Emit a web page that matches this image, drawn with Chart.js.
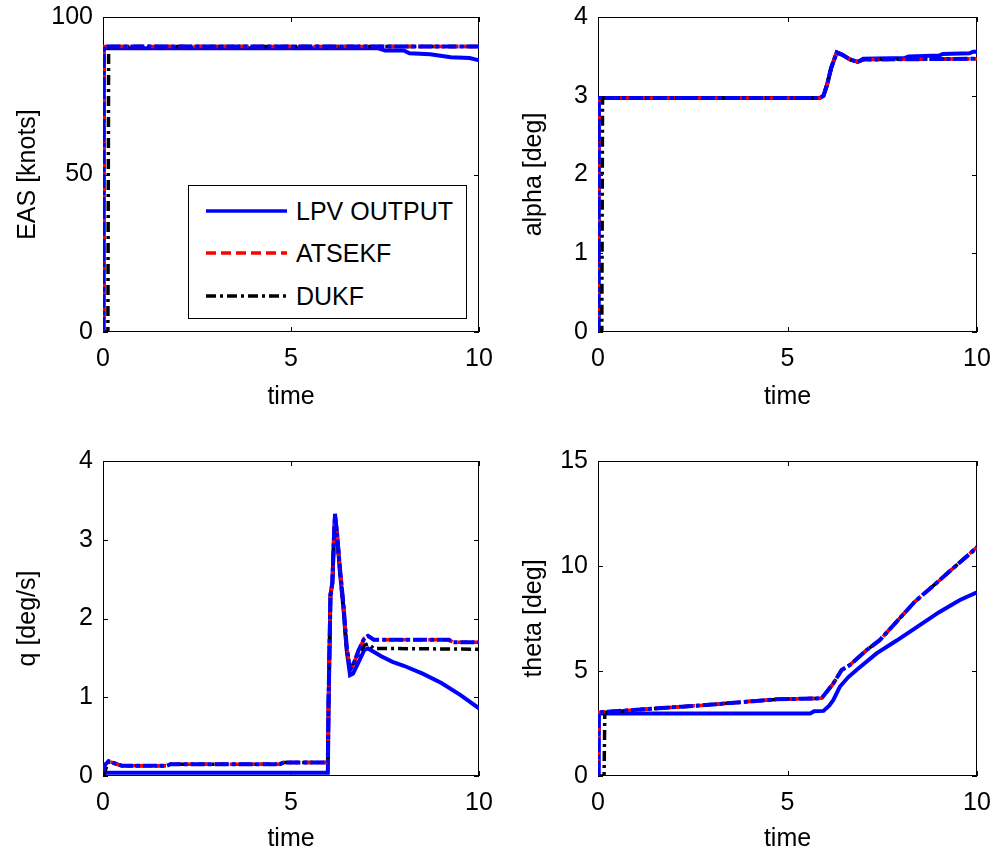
<!DOCTYPE html>
<html>
<head>
<meta charset="utf-8">
<script src="https://cdn.jsdelivr.net/npm/chart.js@4/dist/chart.umd.min.js"></script>
<style>
  body { margin: 0; background: #fff; font-family: "Liberation Sans", Arial, sans-serif; }
  #wrap { position: relative; width: 997px; height: 857px; overflow: hidden; background: #fff; }
  .panel { position: absolute; }
  #legend { position: absolute; left: 188px; top: 185px; width: 277px; height: 132px;
            border: 1px solid #000; background: #fff; color: #000; font-size: 25px; }
  #legend .row { position: absolute; left: 0; height: 30px; display: flex; align-items: center; }
  #legend svg { margin-left: 17px; margin-right: 9px; }
</style>
</head>
<body>
<div id="wrap">
  <div class="panel" style="left:0;top:0"><canvas id="c1" width="498" height="420"></canvas></div>
  <div class="panel" style="left:498px;top:0"><canvas id="c2" width="499" height="420"></canvas></div>
  <div class="panel" style="left:0;top:430px"><canvas id="c3" width="498" height="427"></canvas></div>
  <div class="panel" style="left:498px;top:430px"><canvas id="c4" width="499" height="427"></canvas></div>
  <div id="legend"></div>
</div>
<script>
// ---- data ----
const seriesNames = ['LPV OUTPUT', 'ATSEKF', 'DUKF'];

// EAS [knots]
const tEasLpv = [0, 0.02, 7.3, 7.5, 8.0, 8.15, 8.7, 9.25, 9.75, 9.95, 10];
const easLpv  = [0, 90.1, 90.1, 89.4, 89.4, 88.5, 88.2, 87.2, 87.0, 86.4, 86.3];
const tEasAts = [0, 0.02, 10];
const easAts  = [0, 90.6, 90.6];
const tEasDukf = [0, 0.13, 0.15, 10];
const easDukf  = [0, 0, 90.6, 90.6];

// alpha [deg]
const tAlphaLpv = [0, 0.02, 5.85, 5.95, 6.05, 6.15, 6.3, 6.45, 6.65, 6.85, 7.0, 8.1, 8.2, 9.0, 9.1, 9.8, 9.9, 10];
const alphaLpv  = [0, 2.97, 2.97, 3.0, 3.15, 3.35, 3.55, 3.52, 3.46, 3.43, 3.47, 3.48, 3.5, 3.51, 3.53, 3.54, 3.56, 3.56];
const tAlphaAts = [0, 0.02, 5.85, 5.95, 6.05, 6.15, 6.3, 6.45, 6.65, 6.85, 7.0, 10];
const alphaAts  = [0, 2.97, 2.97, 3.0, 3.15, 3.35, 3.55, 3.52, 3.46, 3.43, 3.46, 3.47];
const tAlphaDukf = [0, 0.1, 0.12, 5.85, 5.95, 6.05, 6.15, 6.3, 6.45, 6.65, 6.85, 7.0, 10];
const alphaDukf  = [0, 0, 2.97, 2.97, 3.0, 3.15, 3.35, 3.55, 3.52, 3.46, 3.43, 3.46, 3.47];

// q [deg/s]
const tQLpv = [0, 0.02, 5.98, 6.0, 6.05, 6.1, 6.14, 6.17, 6.22, 6.3, 6.4, 6.48, 6.57, 6.65, 6.8, 6.95, 7.05, 7.4, 7.7, 8.0, 8.5, 9.0, 9.5, 10];
const qLpv  = [0, 0.04, 0.04, 0.9, 2.3, 2.45, 3.0, 3.33, 3.1, 2.6, 2.1, 1.6, 1.28, 1.3, 1.45, 1.6, 1.62, 1.52, 1.45, 1.4, 1.3, 1.18, 1.03, 0.86];
const tQAts = [0, 0.05, 0.15, 0.25, 0.5, 1.7, 1.8, 4.7, 4.8, 5.98, 6.0, 6.05, 6.1, 6.14, 6.17, 6.22, 6.3, 6.4, 6.48, 6.57, 6.65, 6.8, 6.95, 7.05, 7.2, 9.2, 9.3, 10];
const qAts  = [0.05, 0.14, 0.19, 0.17, 0.13, 0.13, 0.15, 0.15, 0.17, 0.17, 1.0, 2.3, 2.45, 3.0, 3.3, 3.1, 2.65, 2.15, 1.65, 1.35, 1.4, 1.6, 1.75, 1.78, 1.73, 1.73, 1.70, 1.70];
const tQDukf = [0, 0.1, 0.15, 0.25, 0.5, 1.7, 1.8, 4.7, 4.8, 5.98, 6.0, 6.05, 6.1, 6.14, 6.17, 6.22, 6.3, 6.4, 6.48, 6.57, 6.65, 6.8, 6.95, 7.05, 7.2, 10];
const qDukf  = [0, 0.12, 0.18, 0.17, 0.13, 0.13, 0.15, 0.15, 0.17, 0.17, 1.0, 2.3, 2.45, 2.95, 3.25, 3.05, 2.6, 2.1, 1.6, 1.35, 1.42, 1.55, 1.66, 1.68, 1.62, 1.61];

// theta [deg]
const tThLpv = [0, 0.02, 5.6, 5.7, 5.95, 6.1, 6.21, 6.38, 6.6, 6.82, 7.35, 7.88, 8.5, 9.0, 9.55, 10];
const thLpv  = [0, 2.98, 2.98, 3.08, 3.1, 3.35, 3.62, 4.25, 4.7, 5.05, 5.84, 6.45, 7.2, 7.8, 8.38, 8.75];
const tThAts = [0, 0.02, 1.0, 2.2, 3.0, 3.8, 4.7, 5.9, 6.21, 6.43, 6.65, 7.09, 7.44, 7.88, 8.36, 9.0, 9.5, 10];
const thAts  = [0, 3.03, 3.15, 3.3, 3.4, 3.52, 3.65, 3.7, 4.41, 5.05, 5.29, 6.0, 6.48, 7.35, 8.3, 9.3, 10.1, 10.9];
const tThDukf = [0, 0.16, 0.18, 1.0, 2.2, 3.0, 3.8, 4.7, 5.9, 6.21, 6.43, 6.65, 7.09, 7.44, 7.88, 8.36, 9.0, 9.5, 10];
const thDukf  = [0, 0, 3.03, 3.15, 3.3, 3.4, 3.52, 3.65, 3.7, 4.41, 5.05, 5.29, 6.0, 6.48, 7.35, 8.3, 9.3, 10.1, 10.85];

// ---- styles ----
const FONT = '"Liberation Sans", Arial, sans-serif';
const styles = [
  { color: '#0000ff', width: 4, dash: [] },
  { color: '#ff0000', width: 3.5, dash: [10, 5] },
  { color: '#000000', width: 3.5, dash: [10, 4, 3, 4] },
];

const pts = (t, v) => t.map((x, i) => ({ x, y: v[i] }));

// MATLAB-like box with inward ticks on all four sides
const boxPlugin = {
  id: 'matlabBox',
  beforeDatasetsDraw(chart) {
    const { ctx, chartArea: a, scales: { x, y } } = chart;
    const tl = 5;
    ctx.save();
    ctx.strokeStyle = '#000';
    ctx.lineWidth = 1;
    ctx.strokeRect(a.left + 0.5, a.top + 0.5, a.right - a.left - 1, a.bottom - a.top - 1);
    ctx.beginPath();
    x.ticks.forEach(t => {
      const px = Math.round(x.getPixelForValue(t.value)) + 0.5;
      ctx.moveTo(px, a.bottom); ctx.lineTo(px, a.bottom - tl);
      ctx.moveTo(px, a.top); ctx.lineTo(px, a.top + tl);
    });
    y.ticks.forEach(t => {
      const py = Math.round(y.getPixelForValue(t.value)) + 0.5;
      ctx.moveTo(a.left, py); ctx.lineTo(a.left + tl, py);
      ctx.moveTo(a.right, py); ctx.lineTo(a.right - tl, py);
    });
    ctx.stroke();
    ctx.restore();
  }
};

function makePanel(id, p) {
  const sets = [
    [p.lpv, 3], [p.ats, 1], [p.dukf, 2]
  ].map(([d, order], i) => ({
    label: seriesNames[i],
    data: d,
    borderColor: styles[i].color,
    borderWidth: styles[i].width,
    borderDash: styles[i].dash,
    pointRadius: 0,
    tension: 0,
    fill: false,
    order
  }));
  // blue dash-dot trace drawn on top of the estimator curves
  sets.push({
    label: '',
    data: p.ats,
    borderColor: '#0000ff',
    borderWidth: 4,
    borderDash: [14, 3, 4, 3],
    pointRadius: 0,
    tension: 0,
    fill: false,
    order: 0
  });

  return new Chart(document.getElementById(id), {
    type: 'line',
    data: { datasets: sets },
    options: {
      responsive: false,
      animation: false,
      devicePixelRatio: 1,
      layout: { padding: { top: p.padTop, right: p.padRight, left: 0, bottom: 0 } },
      plugins: { legend: { display: false }, tooltip: { enabled: false } },
      scales: {
        x: {
          type: 'linear', min: 0, max: 10,
          grid: { display: false, drawTicks: false },
          border: { display: false },
          ticks: { stepSize: 5, color: '#000', padding: p.xTickPad, font: { family: FONT, size: 25 } },
          title: { display: true, text: 'time', color: '#000', padding: { top: 0, bottom: p.xTitlePad }, font: { family: FONT, size: 25 } },
          afterFit: s => { s.height = p.xAxisH; s.paddingLeft = 0; s.paddingRight = 0; }
        },
        y: {
          type: 'linear', min: p.yMin, max: p.yMax,
          grid: { display: false, drawTicks: false },
          border: { display: false },
          ticks: { stepSize: p.yStep, color: '#000', padding: 10, font: { family: FONT, size: 25 } },
          title: { display: true, text: p.yTitle, color: '#000', padding: { top: p.yTitlePad, bottom: 0 }, font: { family: FONT, size: 25 } },
          afterFit: s => { s.width = p.yAxisW; s.paddingTop = 0; s.paddingBottom = 0; }
        }
      }
    },
    plugins: [boxPlugin]
  });
}

const topRow = { padTop: 17, xAxisH: 88, xTickPad: 12, xTitlePad: 8 };
const botRow = { padTop: 31, xAxisH: 81, xTickPad: 12, xTitlePad: 3 };

makePanel('c1', Object.assign({}, topRow, {
  padRight: 19, yAxisW: 103, yTitlePad: 13,
  yMin: 0, yMax: 100, yStep: 50, yTitle: 'EAS [knots]',
  lpv: pts(tEasLpv, easLpv), ats: pts(tEasAts, easAts), dukf: pts(tEasDukf, easDukf)
}));
makePanel('c2', Object.assign({}, topRow, {
  padRight: 20, yAxisW: 100, yTitlePad: 21,
  yMin: 0, yMax: 4, yStep: 1, yTitle: 'alpha [deg]',
  lpv: pts(tAlphaLpv, alphaLpv), ats: pts(tAlphaAts, alphaAts), dukf: pts(tAlphaDukf, alphaDukf)
}));
makePanel('c3', Object.assign({}, botRow, {
  padRight: 19, yAxisW: 103, yTitlePad: 13,
  yMin: 0, yMax: 4, yStep: 1, yTitle: 'q [deg/s]',
  lpv: pts(tQLpv, qLpv), ats: pts(tQAts, qAts), dukf: pts(tQDukf, qDukf)
}));
makePanel('c4', Object.assign({}, botRow, {
  padRight: 20, yAxisW: 100, yTitlePad: 21,
  yMin: 0, yMax: 15, yStep: 5, yTitle: 'theta [deg]',
  lpv: pts(tThLpv, thLpv), ats: pts(tThAts, thAts), dukf: pts(tThDukf, thDukf)
}));

// legend box inside the first panel
const legend = document.getElementById('legend');
const rowTops = [10, 52, 95];
seriesNames.forEach((name, i) => {
  const st = styles[i];
  const row = document.createElement('div');
  row.className = 'row';
  row.style.top = rowTops[i] + 'px';
  row.innerHTML =
    `<svg width="81" height="10"><line x1="0" y1="5" x2="81" y2="5" stroke="${st.color}" stroke-width="3.5"` +
    (st.dash.length ? ` stroke-dasharray="${st.dash.join(' ')}"` : '') + `/></svg><span>${name}</span>`;
  legend.appendChild(row);
});
</script>
</body>
</html>
